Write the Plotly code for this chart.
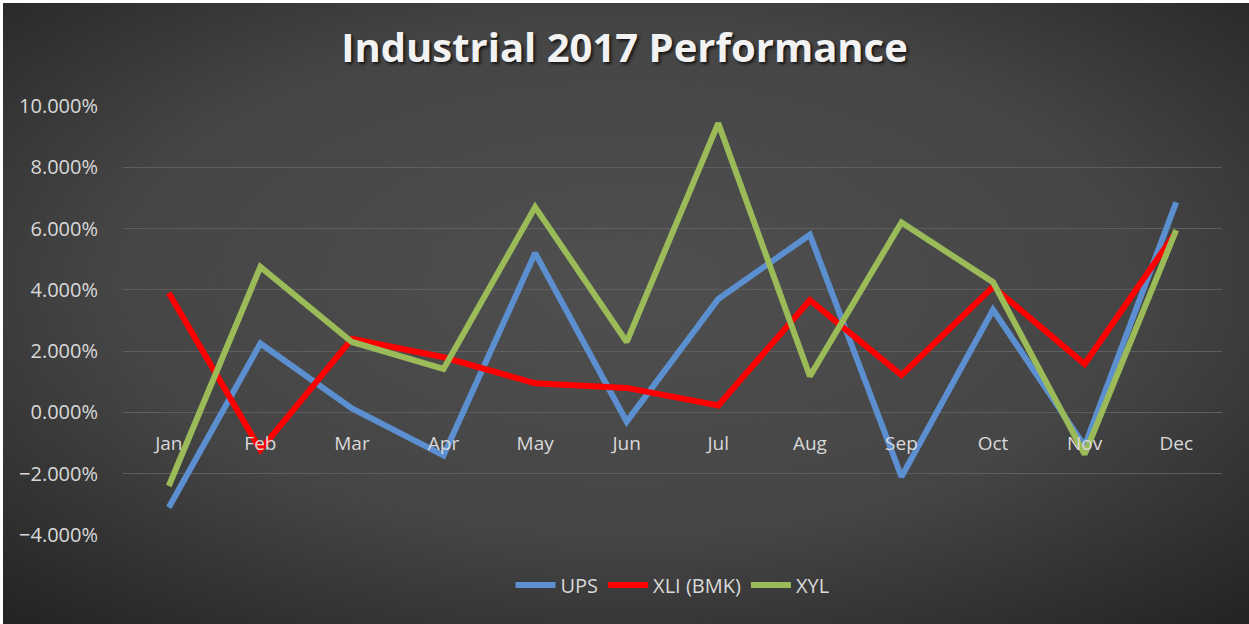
import base64
import plotly.graph_objects as go

months = ["Jan", "Feb", "Mar", "Apr", "May", "Jun", "Jul", "Aug", "Sep", "Oct", "Nov", "Dec"]
ups = [-0.031, 0.0225, 0.0013, -0.014, 0.052, -0.003, 0.037, 0.058, -0.021, 0.0335, -0.011, 0.0686]
xli = [0.039, -0.0122, 0.024, 0.018, 0.0095, 0.008, 0.0023, 0.0366, 0.0122, 0.041, 0.0158, 0.059]
xyl = [-0.024, 0.0475, 0.023, 0.0142, 0.067, 0.023, 0.0944, 0.0118, 0.062, 0.0425, -0.0137, 0.0595]
y_ticks = [-0.04, -0.02, 0.0, 0.02, 0.04, 0.06, 0.08, 0.10]

W, H = 1249, 624
ML, MR, MT, MB = 123, 27, 106, 89
PW, PH = W - ML - MR, H - MT - MB

svg = (
    f'<svg xmlns="http://www.w3.org/2000/svg" width="{W}" height="{H}">'
    '<defs><radialGradient id="g" cx="50%" cy="45%" r="75%">'
    '<stop offset="0" stop-color="#4f4f4f"/><stop offset="0.55" stop-color="#454545"/>'
    '<stop offset="1" stop-color="#222222"/></radialGradient></defs>'
    '<rect width="100%" height="100%" fill="url(#g)"/></svg>'
)
bg_uri = "data:image/svg+xml;base64," + base64.b64encode(svg.encode()).decode()

fig = go.Figure()
series = [("UPS", ups, "#5b8fd0"), ("XLI (BMK)", xli, "#ff0000"), ("XYL", xyl, "#9bbb59")]
for name, vals, col in series:
    fig.add_trace(go.Scatter(x=months, y=vals, name=name, mode="lines",
                             line=dict(color=col, width=6)))

font_family = "Open Sans, Noto Sans, sans-serif"
fig.update_layout(
    width=W, height=H,
    margin=dict(l=ML, r=MR, t=MT, b=MB),
    paper_bgcolor="#ffffff",
    plot_bgcolor="rgba(0,0,0,0)",
    images=[dict(source=bg_uri, xref="paper", yref="paper",
                 x=(3 - ML) / PW, y=1 + (MT - 3) / PH,
                 sizex=(W - 3) / PW, sizey=(H - 3) / PH,
                 sizing="stretch", layer="below", xanchor="left", yanchor="top")],
    title=dict(text="<b>Industrial 2017 Performance</b>", x=0.5, xref="container", xanchor="center",
               y=1 - 48 / H, yanchor="middle",
               font=dict(family=font_family, size=40, color="#f2f2f2",
                         shadow="2px 2px 3px rgba(0,0,0,0.7)")),
    font=dict(family=font_family, color="#d9d9d9", size=19),
    showlegend=True,
    legend=dict(orientation="h", x=0.5, xanchor="center", y=(535 - 585) / PH, yanchor="middle",
                font=dict(size=20, color="#d9d9d9"), bgcolor="rgba(0,0,0,0)", itemwidth=40),
    xaxis=dict(type="category", showgrid=False, showline=False, zeroline=False,
               anchor="free", position=4 / 14, ticks="", ticklabelstandoff=18,
               tickfont=dict(size=19, color="#d9d9d9"), range=[-0.5, 11.5]),
    yaxis=dict(range=[-0.04, 0.10], tickvals=y_ticks, tickformat=".3%",
               showgrid=True, gridcolor="#5e5e5e", gridwidth=1, zeroline=False,
               showline=False, ticks="outside", ticklen=20, tickcolor="rgba(0,0,0,0)",
               tickfont=dict(size=20, color="#d9d9d9")),
)

fig.write_html("out.html", config={"displayModeBar": False},
               post_script="document.body.style.margin='0';")
